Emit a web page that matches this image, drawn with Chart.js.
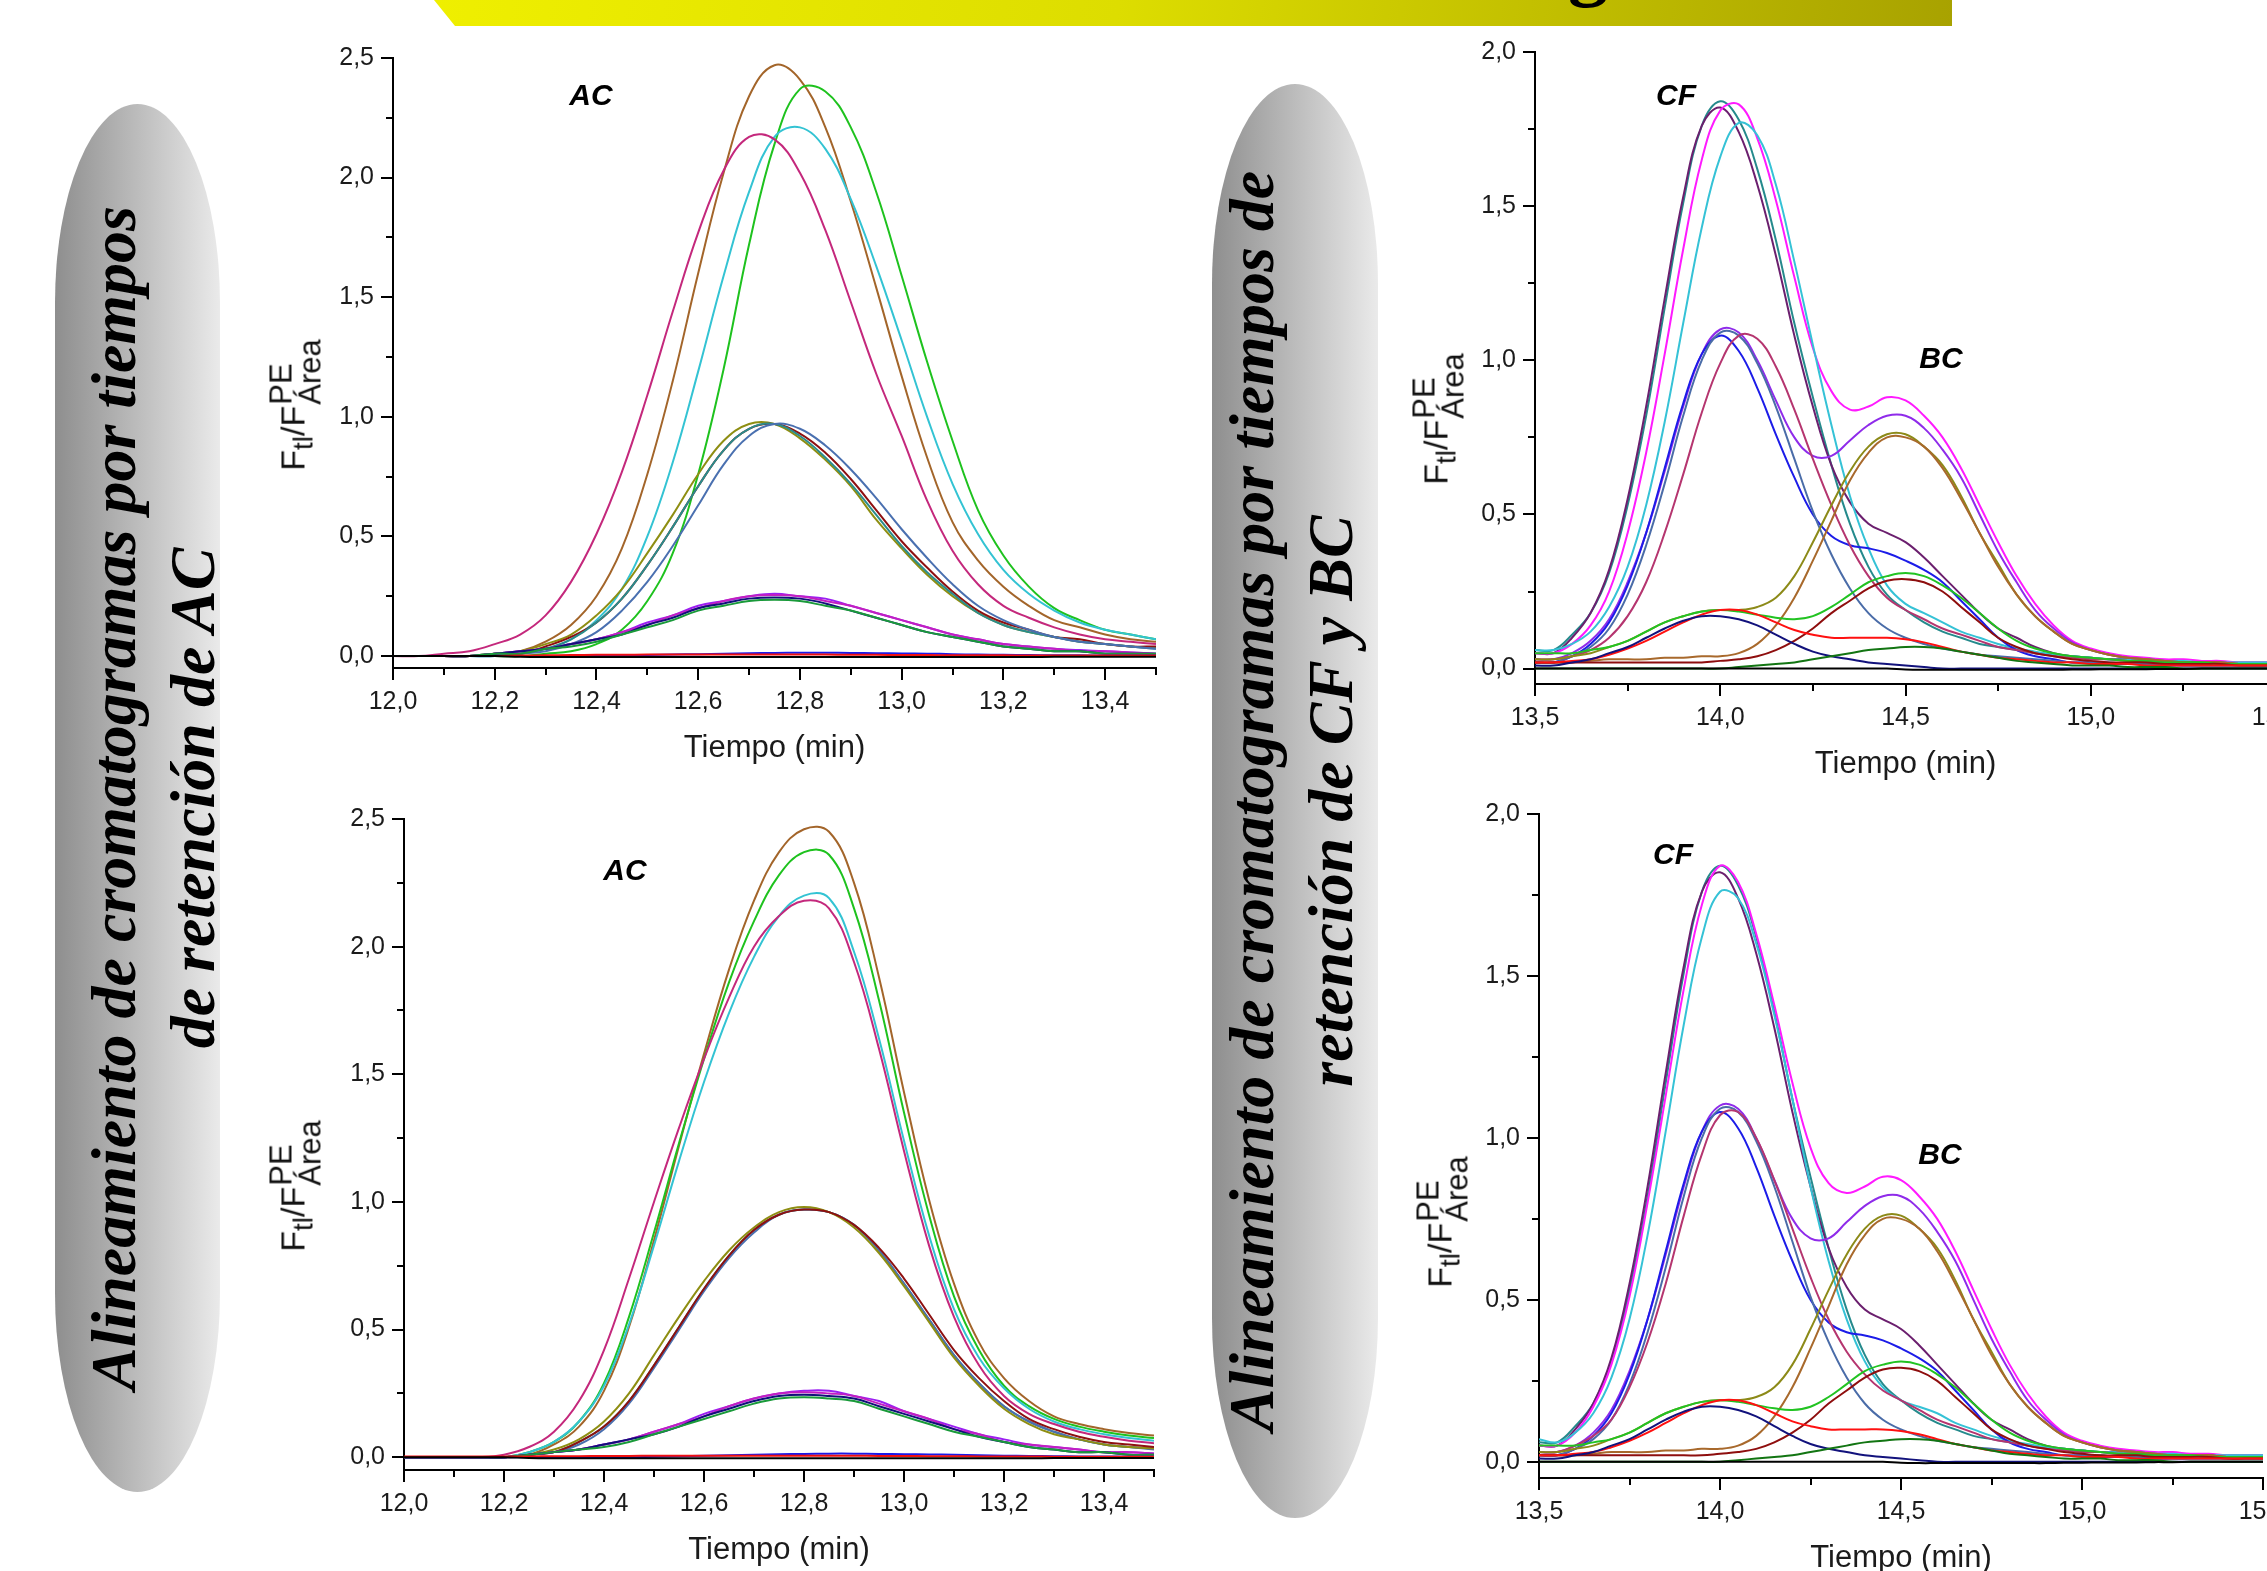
<!DOCTYPE html>
<html lang="es">
<head>
<meta charset="UTF-8">
<title>Alineamiento de cromatogramas</title>
<script src="https://cdn.jsdelivr.net/npm/chart.js@4.4.1/dist/chart.umd.min.js"></script>
<style>
  html, body { margin: 0; padding: 0; background: #fff; }
  body { width: 2267px; height: 1571px; position: relative; overflow: hidden; font-family: "Liberation Sans", Arial, sans-serif; }
  canvas { position: absolute; }
  .banner { position: absolute; left: 434px; top: 0; width: 1518px; height: 26px;
    background: linear-gradient(100deg, #efef00 0%, #dddd00 45%, #a8a200 100%);
    clip-path: polygon(0 0, 100% 0, 100% 100%, 21px 100%); }
  .banner-g { position: absolute; left: 1568px; top: -76px; font: bold 80px/80px "Liberation Serif", serif; color: #000; }
  .pill { position: absolute; border-radius: 83px / 200px; background: linear-gradient(to right, #8e8e8e, #eaeaea); }
  .pill-text { position: absolute; width: 1400px; height: 158px; transform: rotate(-90deg);
    font: italic bold 64px/79px "Liberation Serif", "Times New Roman", serif; text-align: center; color: #000; white-space: nowrap; }
  .ylab { position: absolute; transform: translate(-50%, -50%) rotate(-90deg); white-space: nowrap; font-size: 34px; line-height: 1; color: #111; }
  .ylab .s1 { font-size: 28px; vertical-align: -8px; }
  .ylab .st { display: inline-flex; flex-direction: column; font-size: 31px; line-height: 0.92; vertical-align: 13px; margin-left: 1px; }
  .tag { position: absolute; transform: translate(-50%, -50%); font: italic bold 30px "Liberation Sans", Arial, sans-serif; color: #000; }
</style>
</head>
<body>
<div class="banner"></div>
<div class="banner-g">g</div>

<div class="pill" style="left:55px;top:104px;width:165px;height:1388px"></div>
<div class="pill-text" style="left:-547px;top:719px">Alineamiento de cromatogramas por tiempos<br>de retención de AC</div>
<div class="pill" style="left:1212px;top:84px;width:166px;height:1434px"></div>
<div class="pill-text" style="left:591px;top:722px">Alineamiento de cromatogramas por tiempos de<br>retención de CF y BC</div>

<canvas id="p1" width="873" height="732" style="left:303px;top:38px"></canvas>
<canvas id="p3" width="860" height="773" style="left:314px;top:799px"></canvas>
<canvas id="p2" width="851" height="754" style="left:1445px;top:32px"></canvas>
<canvas id="p4" width="834" height="786" style="left:1449px;top:794px"></canvas>

<div class="ylab" style="left:296px;top:405px">F<sub class="s1">tl</sub>/F<span class="st"><span>PE</span><span>Área</span></span></div>
<div class="ylab" style="left:296px;top:1186px">F<sub class="s1">tl</sub>/F<span class="st"><span>PE</span><span>Área</span></span></div>
<div class="ylab" style="left:1439px;top:419px">F<sub class="s1">tl</sub>/F<span class="st"><span>PE</span><span>Área</span></span></div>
<div class="ylab" style="left:1443px;top:1222px">F<sub class="s1">tl</sub>/F<span class="st"><span>PE</span><span>Área</span></span></div>

<div class="tag" style="left:591px;top:95px">AC</div>
<div class="tag" style="left:625px;top:870px">AC</div>
<div class="tag" style="left:1676px;top:95px">CF</div>
<div class="tag" style="left:1941px;top:358px">BC</div>
<div class="tag" style="left:1673px;top:854px">CF</div>
<div class="tag" style="left:1940px;top:1154px">BC</div>

<script>
// tiempo (min)
const tAC = [12.00,12.05,12.10,12.15,12.20,12.25,12.30,12.35,12.40,12.45,12.50,12.55,12.60,12.65,12.70,12.75,
  12.80,12.85,12.90,12.95,13.00,13.05,13.10,13.15,13.20,13.25,13.30,13.35,13.40,13.45,13.50];
const tCF = [13.50,13.55,13.60,13.65,13.70,13.75,13.80,13.85,13.90,13.95,14.00,14.05,14.10,14.15,14.20,14.25,
  14.30,14.35,14.40,14.45,14.50,14.55,14.60,14.65,14.70,14.75,14.80,14.85,14.90,14.95,15.00,15.05,15.10,15.15,
  15.20,15.25,15.30,15.35,15.40,15.45,15.50];

// ticks
const acXMajor = [12.0,12.2,12.4,12.6,12.8,13.0,13.2,13.4];
const acXMinor = [12.1,12.3,12.5,12.7,12.9,13.1,13.3,13.5];
const acYMajor = [0,0.5,1.0,1.5,2.0,2.5];
const acYMinor = [0.25,0.75,1.25,1.75,2.25];
const cfXMajor = [13.5,14.0,14.5,15.0,15.5];
const cfXMinor = [13.75,14.25,14.75,15.25];
const cfYMajor = [0,0.5,1.0,1.5,2.0];
const cfYMinor = [0.25,0.75,1.25,1.75];

// AC, sin alinear (arriba izquierda)
const ac1Brown   = [0,0,0,0,0.01,0.02,0.06,0.13,0.25,0.45,0.76,1.15,1.60,2.02,2.34,2.47,2.41,2.21,1.90,1.54,1.17,0.83,0.56,0.40,0.29,0.21,0.15,0.12,0.09,0.07,0.06];
const ac1Green   = [0,0,0,0,0,0,0.01,0.02,0.05,0.11,0.23,0.43,0.76,1.20,1.72,2.14,2.37,2.36,2.21,1.94,1.59,1.23,0.90,0.61,0.42,0.29,0.20,0.15,0.11,0.09,0.07];
const ac1Cyan    = [0,0,0,0,0,0.01,0.03,0.07,0.15,0.28,0.50,0.81,1.19,1.59,1.94,2.17,2.21,2.12,1.91,1.63,1.32,1.00,0.72,0.51,0.36,0.26,0.19,0.14,0.11,0.09,0.07];
const ac1Crimson = [0,0,0.01,0.02,0.05,0.09,0.17,0.31,0.51,0.77,1.09,1.44,1.77,2.03,2.17,2.16,2.02,1.78,1.48,1.18,0.92,0.65,0.44,0.30,0.21,0.16,0.12,0.09,0.07,0.06,0.05];
const ac1Olive   = [0,0,0,0,0.01,0.02,0.05,0.09,0.17,0.28,0.43,0.59,0.76,0.90,0.97,0.97,0.91,0.82,0.71,0.57,0.45,0.34,0.25,0.18,0.13,0.10,0.08,0.06,0.05,0.04,0.035];
const ac1DarkRed = [0,0,0,0,0.01,0.01,0.04,0.08,0.14,0.24,0.38,0.54,0.71,0.86,0.95,0.97,0.93,0.85,0.74,0.61,0.48,0.37,0.27,0.19,0.14,0.11,0.08,0.07,0.05,0.04,0.04];
const ac1Teal    = [0,0,0,0,0.01,0.01,0.03,0.07,0.14,0.24,0.38,0.54,0.71,0.86,0.95,0.97,0.92,0.83,0.72,0.59,0.46,0.35,0.26,0.18,0.13,0.10,0.08,0.06,0.05,0.04,0.03];
const ac1Steel   = [0,0,0,0,0,0.01,0.02,0.05,0.10,0.19,0.31,0.46,0.63,0.80,0.92,0.97,0.95,0.88,0.78,0.66,0.53,0.41,0.30,0.21,0.15,0.11,0.08,0.06,0.05,0.04,0.03];
const ac1Purple  = [0,0,0,0,0.01,0.02,0.03,0.05,0.07,0.10,0.14,0.17,0.21,0.23,0.25,0.26,0.25,0.24,0.21,0.18,0.15,0.12,0.09,0.07,0.05,0.04,0.03,0.025,0.02,0.015,0.01];
const ac1Violet  = [0,0,0,0,0.01,0.02,0.03,0.05,0.07,0.10,0.13,0.17,0.20,0.23,0.25,0.255,0.25,0.23,0.21,0.18,0.15,0.12,0.09,0.07,0.05,0.04,0.03,0.02,0.02,0.015,0.01];
const ac1Navy    = [0,0,0,0,0.01,0.02,0.03,0.05,0.07,0.09,0.13,0.16,0.20,0.22,0.24,0.245,0.24,0.22,0.19,0.16,0.13,0.10,0.08,0.06,0.04,0.03,0.02,0.02,0.01,0.01,0.01];
const ac1Green2  = [0,0,0,0,0.01,0.01,0.03,0.04,0.06,0.09,0.12,0.15,0.19,0.21,0.23,0.235,0.23,0.21,0.19,0.16,0.13,0.10,0.08,0.06,0.04,0.03,0.02,0.02,0.01,0.01,0.01];
const ac1Blue    = [0,0,0,0,0,0,0,0,0,0.002,0.004,0.006,0.008,0.01,0.012,0.013,0.014,0.014,0.013,0.012,0.011,0.01,0.008,0.006,0.005,0.004,0.003,0.003,0.002,0.002,0.002];
const ac1Red     = [0,0,0,0,0,0.002,0.003,0.004,0.005,0.005,0.006,0.006,0.006,0.006,0.006,0.006,0.006,0.006,0.005,0.005,0.004,0.004,0.003,0.003,0.003,0.002,0.002,0.002,0.002,0.002,0.002];
const acBlack    = [0,0,0,0,0,-0.003,-0.004,-0.004,-0.004,-0.004,-0.004,-0.004,-0.004,-0.004,-0.004,-0.004,-0.004,-0.004,-0.004,-0.004,-0.004,-0.004,-0.004,-0.004,-0.004,-0.004,-0.003,-0.003,-0.003,-0.003,-0.003];

// AC, alineado (abajo izquierda)
const ac3Brown   = [0,0,0,0,0,0.01,0.05,0.12,0.26,0.51,0.85,1.22,1.58,1.91,2.18,2.37,2.46,2.45,2.25,1.88,1.43,1.01,0.68,0.45,0.31,0.22,0.16,0.13,0.11,0.095,0.085];
const ac3Green   = [0,0,0,0,0,0.02,0.06,0.14,0.29,0.55,0.88,1.23,1.56,1.86,2.10,2.28,2.37,2.36,2.15,1.79,1.35,0.95,0.63,0.42,0.28,0.20,0.15,0.12,0.10,0.085,0.075];
const ac3Cyan    = [0,0,0,0,0,0.02,0.06,0.14,0.28,0.52,0.83,1.16,1.47,1.74,1.96,2.12,2.20,2.19,1.98,1.64,1.24,0.87,0.58,0.39,0.27,0.19,0.14,0.11,0.09,0.075,0.065];
const ac3Crimson = [0,0,0,0,0.01,0.04,0.10,0.22,0.42,0.70,1.00,1.29,1.56,1.80,2.00,2.12,2.18,2.15,1.94,1.60,1.20,0.83,0.55,0.36,0.24,0.17,0.13,0.10,0.08,0.065,0.055];
const ac3Olive   = [0,0,0,0,0,0.01,0.03,0.07,0.14,0.25,0.40,0.55,0.69,0.81,0.90,0.96,0.98,0.96,0.90,0.80,0.67,0.53,0.39,0.28,0.19,0.13,0.09,0.07,0.05,0.04,0.035];
const ac3Teal    = [0,0,0,0,0,0.01,0.02,0.06,0.12,0.22,0.36,0.51,0.66,0.79,0.89,0.95,0.97,0.96,0.91,0.81,0.68,0.54,0.40,0.29,0.20,0.14,0.10,0.07,0.05,0.04,0.035];
const ac3DarkRed = [0,0,0,0,0,0.01,0.02,0.06,0.12,0.22,0.36,0.51,0.66,0.79,0.89,0.95,0.97,0.96,0.91,0.82,0.70,0.56,0.42,0.31,0.22,0.15,0.11,0.08,0.06,0.05,0.04];
const ac3Steel   = [0,0,0,0,0,0.01,0.02,0.05,0.11,0.21,0.35,0.50,0.65,0.78,0.88,0.95,0.97,0.96,0.91,0.81,0.68,0.54,0.40,0.29,0.20,0.14,0.10,0.07,0.05,0.04,0.03];
const ac3Purple  = [0,0,0,0,0,0.01,0.02,0.03,0.05,0.07,0.10,0.13,0.17,0.20,0.23,0.25,0.26,0.26,0.24,0.22,0.18,0.15,0.12,0.09,0.07,0.05,0.04,0.03,0.02,0.02,0.015];
const ac3Violet  = [0,0,0,0,0,0.01,0.02,0.03,0.05,0.07,0.10,0.13,0.16,0.20,0.23,0.25,0.255,0.25,0.24,0.21,0.18,0.15,0.11,0.09,0.06,0.05,0.04,0.03,0.02,0.02,0.015];
const ac3Navy    = [0,0,0,0,0,0.01,0.02,0.03,0.05,0.07,0.09,0.12,0.16,0.19,0.22,0.24,0.245,0.24,0.23,0.20,0.17,0.14,0.11,0.08,0.06,0.04,0.03,0.02,0.02,0.01,0.01];
const ac3Green2  = [0,0,0,0,0,0.01,0.02,0.03,0.04,0.06,0.09,0.12,0.15,0.18,0.21,0.23,0.235,0.23,0.22,0.19,0.16,0.13,0.10,0.08,0.06,0.04,0.03,0.02,0.02,0.01,0.01];
const ac3Blue    = [0,0,0,0,0,0,0,0,0,0,0.002,0.004,0.006,0.008,0.01,0.012,0.013,0.014,0.014,0.013,0.012,0.011,0.01,0.008,0.006,0.005,0.004,0.003,0.003,0.002,0.002];
const ac3Red     = [0.003,0.003,0.003,0.003,0.003,0.003,0.004,0.004,0.005,0.005,0.006,0.006,0.006,0.006,0.006,0.006,0.006,0.006,0.006,0.005,0.005,0.004,0.004,0.003,0.003,0.003,0.002,0.002,0.002,0.002,0.002];

// CF y BC, sin alinear (arriba derecha)
const cfTeal      = [0.06,0.06,0.11,0.18,0.31,0.53,0.82,1.17,1.51,1.76,1.84,1.78,1.62,1.39,1.12,0.88,0.66,0.47,0.33,0.24,0.19,0.15,0.12,0.10,0.08,0.07,0.06,0.05,0.045,0.04,0.035,0.03,0.03,0.025,0.025,0.02,0.02,0.02,0.02,0.02,0.02];
const cfDkPurple  = [0.05,0.05,0.10,0.18,0.32,0.55,0.85,1.20,1.53,1.76,1.82,1.74,1.57,1.34,1.08,0.85,0.66,0.54,0.47,0.44,0.41,0.36,0.30,0.24,0.18,0.13,0.10,0.07,0.05,0.04,0.035,0.03,0.03,0.025,0.02,0.02,0.02,0.015,0.015,0.015,0.015];
const cf2Magenta  = [0.05,0.05,0.08,0.14,0.25,0.44,0.70,1.02,1.36,1.65,1.81,1.83,1.72,1.52,1.27,1.04,0.90,0.84,0.85,0.88,0.87,0.82,0.75,0.65,0.53,0.41,0.30,0.21,0.14,0.09,0.065,0.05,0.04,0.035,0.03,0.03,0.025,0.025,0.02,0.02,0.02];
const cf2Cyan     = [0.06,0.06,0.08,0.12,0.20,0.33,0.53,0.80,1.12,1.43,1.66,1.77,1.73,1.57,1.32,1.05,0.79,0.56,0.39,0.27,0.21,0.18,0.15,0.12,0.10,0.08,0.065,0.055,0.045,0.04,0.035,0.03,0.03,0.03,0.025,0.025,0.02,0.02,0.02,0.02,0.02];
const cfViolet    = [0.03,0.03,0.05,0.09,0.16,0.28,0.44,0.64,0.85,1.02,1.10,1.09,1.00,0.87,0.75,0.69,0.69,0.74,0.79,0.82,0.82,0.78,0.71,0.62,0.50,0.38,0.28,0.19,0.13,0.085,0.06,0.045,0.035,0.03,0.025,0.02,0.02,0.02,0.015,0.015,0.015];
const cfBlue      = [0.02,0.02,0.04,0.08,0.15,0.27,0.44,0.65,0.86,1.02,1.08,1.03,0.91,0.76,0.62,0.50,0.43,0.40,0.39,0.375,0.35,0.32,0.28,0.22,0.16,0.10,0.06,0.04,0.03,0.02,0.02,0.015,0.015,0.015,0.01,0.01,0.01,0.01,0.01,0.01,0.01];
const cfSteel     = [0.02,0.02,0.04,0.07,0.13,0.24,0.40,0.60,0.82,1.00,1.09,1.08,0.99,0.85,0.68,0.51,0.37,0.26,0.18,0.13,0.10,0.08,0.065,0.055,0.045,0.04,0.035,0.03,0.025,0.02,0.02,0.02,0.015,0.015,0.015,0.01,0.01,0.01,0.01,0.01,0.01];
const cf2Crimson  = [0.03,0.03,0.04,0.06,0.10,0.17,0.28,0.44,0.63,0.83,0.99,1.08,1.07,0.98,0.84,0.68,0.53,0.40,0.30,0.23,0.19,0.16,0.13,0.11,0.09,0.07,0.06,0.05,0.04,0.035,0.03,0.03,0.025,0.025,0.02,0.02,0.02,0.02,0.015,0.015,0.015];
const cfOlive     = [0.03,0.03,0.04,0.05,0.07,0.09,0.12,0.15,0.17,0.185,0.19,0.19,0.20,0.23,0.30,0.41,0.53,0.64,0.72,0.76,0.76,0.72,0.66,0.56,0.44,0.34,0.24,0.17,0.12,0.08,0.06,0.045,0.035,0.03,0.025,0.02,0.02,0.02,0.015,0.015,0.015];
const cfBrown     = [0.02,0.02,0.02,0.025,0.03,0.03,0.03,0.035,0.035,0.04,0.04,0.05,0.08,0.14,0.23,0.35,0.48,0.61,0.70,0.75,0.75,0.72,0.65,0.55,0.44,0.33,0.24,0.17,0.12,0.08,0.06,0.045,0.035,0.03,0.025,0.02,0.02,0.02,0.015,0.015,0.015];
const cfGreen     = [0.05,0.05,0.05,0.06,0.07,0.09,0.12,0.15,0.17,0.185,0.19,0.185,0.175,0.165,0.16,0.17,0.20,0.24,0.28,0.30,0.31,0.30,0.27,0.23,0.18,0.13,0.09,0.065,0.05,0.04,0.035,0.03,0.025,0.025,0.02,0.02,0.02,0.015,0.015,0.015,0.015];
const cfDarkRed   = [0.02,0.02,0.02,0.02,0.02,0.02,0.02,0.02,0.02,0.02,0.025,0.03,0.04,0.06,0.09,0.13,0.18,0.22,0.26,0.285,0.29,0.28,0.25,0.20,0.15,0.10,0.07,0.05,0.04,0.03,0.025,0.02,0.02,0.02,0.015,0.015,0.015,0.015,0.01,0.01,0.01];
const cfRed       = [0.02,0.02,0.025,0.03,0.045,0.065,0.09,0.12,0.15,0.175,0.19,0.19,0.175,0.15,0.125,0.11,0.10,0.10,0.10,0.10,0.095,0.085,0.07,0.055,0.045,0.035,0.03,0.025,0.02,0.02,0.015,0.015,0.015,0.01,0.01,0.01,0.01,0.01,0.01,0.01,0.01];
const cfNavy      = [0.01,0.01,0.02,0.03,0.05,0.07,0.10,0.13,0.155,0.17,0.17,0.16,0.14,0.11,0.08,0.055,0.04,0.03,0.02,0.015,0.01,0.005,0,0,0,0,0,0,0,0,0,0,0,0,0,0,0,0,0,0,0];
const cfDkGreen   = [0,0,0,0,0,0,0,0,0,0,0,0.005,0.01,0.015,0.02,0.03,0.04,0.05,0.06,0.065,0.07,0.07,0.065,0.055,0.045,0.035,0.025,0.02,0.015,0.01,0.01,0.01,0.005,0.005,0.005,0,0,0,0,0,0];
const cfBlack     = [0,0,0,0,0,0,0,0,0,0,0,0,0,0,0,0,0,0,0,0,-0.003,-0.004,-0.004,-0.004,-0.004,-0.004,-0.004,-0.004,-0.004,-0.003,-0.003,-0.002,-0.002,-0.002,-0.001,-0.001,0,0,0,0,0];

// CF y BC, alineado (abajo derecha): los picos de CF coinciden en 14,0
const cf4Magenta  = [0.05,0.05,0.09,0.17,0.30,0.51,0.80,1.13,1.46,1.72,1.84,1.79,1.63,1.41,1.17,0.97,0.86,0.83,0.85,0.88,0.87,0.82,0.75,0.65,0.53,0.41,0.30,0.21,0.14,0.09,0.065,0.05,0.04,0.035,0.03,0.03,0.025,0.025,0.02,0.02,0.02];
const cf4Cyan     = [0.07,0.06,0.09,0.15,0.26,0.44,0.70,1.02,1.35,1.62,1.76,1.74,1.60,1.38,1.12,0.85,0.62,0.44,0.31,0.23,0.19,0.17,0.15,0.12,0.10,0.08,0.065,0.055,0.045,0.04,0.035,0.03,0.03,0.03,0.025,0.025,0.02,0.02,0.02,0.02,0.02];
const cf4Crimson  = [0.03,0.03,0.05,0.08,0.13,0.23,0.37,0.55,0.76,0.95,1.07,1.08,1.00,0.87,0.72,0.57,0.44,0.34,0.27,0.22,0.19,0.16,0.13,0.11,0.09,0.07,0.06,0.05,0.04,0.035,0.03,0.03,0.025,0.025,0.02,0.02,0.02,0.02,0.015,0.015,0.015];

Chart.defaults.font.family = '"Liberation Sans", Arial, sans-serif';
Chart.defaults.color = '#1b1b1b';

function fmt(v) { return Number(v).toFixed(1).replace('.', ','); }

function line(times, values, color) {
  return {
    data: values.map((v, i) => ({ x: times[i], y: v })),
    borderColor: color,
    borderWidth: 2,
    pointRadius: 0,
    fill: false,
    tension: 0.4
  };
}

// short ticks between the labelled ones
const minorTicks = {
  id: 'minorTicks',
  afterDraw(chart, args, opts) {
    const { ctx, scales: { x, y } } = chart;
    ctx.save();
    ctx.strokeStyle = '#000';
    ctx.lineWidth = 2;
    opts.xs.forEach(v => {
      const px = Math.round(x.getPixelForValue(v));
      ctx.beginPath(); ctx.moveTo(px, x.top); ctx.lineTo(px, x.top + 7); ctx.stroke();
    });
    opts.ys.forEach(v => {
      const py = Math.round(y.getPixelForValue(v));
      ctx.beginPath(); ctx.moveTo(y.right, py); ctx.lineTo(y.right - 7, py); ctx.stroke();
    });
    ctx.restore();
  }
};

const axisGrid = { drawOnChartArea: false, drawTicks: true, tickLength: 12, color: '#000', lineWidth: 2 };
const axisBorder = { color: '#000', width: 2 };

function drawPanel(id, o) {
  new Chart(document.getElementById(id), {
    type: 'line',
    data: { datasets: o.series },
    options: {
      responsive: false,
      animation: false,
      events: [],
      layout: { padding: { top: 20, right: 20, left: 0, bottom: 0 } },
      plugins: {
        legend: { display: false },
        tooltip: { enabled: false },
        minorTicks: { xs: o.xMinor, ys: o.yMinor }
      },
      scales: {
        x: {
          type: 'linear', min: o.xMin, max: o.xMax,
          afterBuildTicks: s => { s.ticks = o.xMajor.map(v => ({ value: v })); },
          afterFit: s => { s.height = 102; s.paddingLeft = 0; s.paddingRight = 0; },
          ticks: { callback: fmt, font: { size: 25 }, padding: 7, maxRotation: 0, autoSkip: false },
          grid: axisGrid,
          border: axisBorder,
          title: { display: true, text: 'Tiempo (min)', font: { size: 31 }, padding: { top: 0, bottom: 3 }, color: '#1b1b1b' }
        },
        y: {
          type: 'linear', min: -0.05, max: o.yMax,
          afterBuildTicks: s => { s.ticks = o.yMajor.map(v => ({ value: v })); },
          afterFit: s => { s.width = 90; s.paddingTop = 0; s.paddingBottom = 0; },
          ticks: { callback: fmt, font: { size: 25 }, padding: 7 },
          grid: axisGrid,
          border: axisBorder
        }
      }
    },
    plugins: [minorTicks]
  });
}

drawPanel('p1', {
  xMin: 12.0, xMax: 13.5, yMax: 2.5,
  xMajor: acXMajor, xMinor: acXMinor, yMajor: acYMajor, yMinor: acYMinor,
  series: [
    line(tAC, acBlack, '#000000'),
    line(tAC, ac1Red, '#f01010'),
    line(tAC, ac1Blue, '#1a1ae8'),
    line(tAC, ac1Green2, '#1a9a3a'),
    line(tAC, ac1Navy, '#10107a'),
    line(tAC, ac1Violet, '#c21fc2'),
    line(tAC, ac1Purple, '#9b1ff2'),
    line(tAC, ac1Steel, '#4a70b0'),
    line(tAC, ac1Teal, '#2b8c8c'),
    line(tAC, ac1DarkRed, '#8e1010'),
    line(tAC, ac1Olive, '#8e8e12'),
    line(tAC, ac1Crimson, '#c4287c'),
    line(tAC, ac1Cyan, '#33c3d3'),
    line(tAC, ac1Green, '#1ec21e'),
    line(tAC, ac1Brown, '#a3652a')
  ]
});

drawPanel('p3', {
  xMin: 12.0, xMax: 13.5, yMax: 2.5,
  xMajor: acXMajor, xMinor: acXMinor, yMajor: acYMajor, yMinor: acYMinor,
  series: [
    line(tAC, acBlack, '#000000'),
    line(tAC, ac3Red, '#f01010'),
    line(tAC, ac3Blue, '#1a1ae8'),
    line(tAC, ac3Green2, '#1a9a3a'),
    line(tAC, ac3Navy, '#10107a'),
    line(tAC, ac3Violet, '#c21fc2'),
    line(tAC, ac3Purple, '#9b1ff2'),
    line(tAC, ac3DarkRed, '#8e1010'),
    line(tAC, ac3Olive, '#8e8e12'),
    line(tAC, ac3Steel, '#4a70b0'),
    line(tAC, ac3Teal, '#2b8c8c'),
    line(tAC, ac3Crimson, '#c4287c'),
    line(tAC, ac3Cyan, '#33c3d3'),
    line(tAC, ac3Green, '#1ec21e'),
    line(tAC, ac3Brown, '#a3652a')
  ]
});

function cfSeries(magenta, cyan, crimson) {
  return [
    line(tCF, cfBlack, '#000000'),
    line(tCF, cfDkGreen, '#127512'),
    line(tCF, cfNavy, '#12127c'),
    line(tCF, cfRed, '#ff1010'),
    line(tCF, cfDarkRed, '#8e0e0e'),
    line(tCF, cfGreen, '#22c322'),
    line(tCF, cfBrown, '#a8692c'),
    line(tCF, cfOlive, '#8c8a18'),
    line(tCF, crimson, '#b5356f'),
    line(tCF, cfSteel, '#4a6ca8'),
    line(tCF, cfBlue, '#1c1ce8'),
    line(tCF, cfViolet, '#8f2bea'),
    line(tCF, cyan, '#35c2d6'),
    line(tCF, magenta, '#ff1aff'),
    line(tCF, cfDkPurple, '#6b1f6e'),
    line(tCF, cfTeal, '#258a8c')
  ];
}

drawPanel('p2', {
  xMin: 13.5, xMax: 15.5, yMax: 2.0,
  xMajor: cfXMajor, xMinor: cfXMinor, yMajor: cfYMajor, yMinor: cfYMinor,
  series: cfSeries(cf2Magenta, cf2Cyan, cf2Crimson)
});

drawPanel('p4', {
  xMin: 13.5, xMax: 15.5, yMax: 2.0,
  xMajor: cfXMajor, xMinor: cfXMinor, yMajor: cfYMajor, yMinor: cfYMinor,
  series: cfSeries(cf4Magenta, cf4Cyan, cf4Crimson)
});
</script>
</body>
</html>
